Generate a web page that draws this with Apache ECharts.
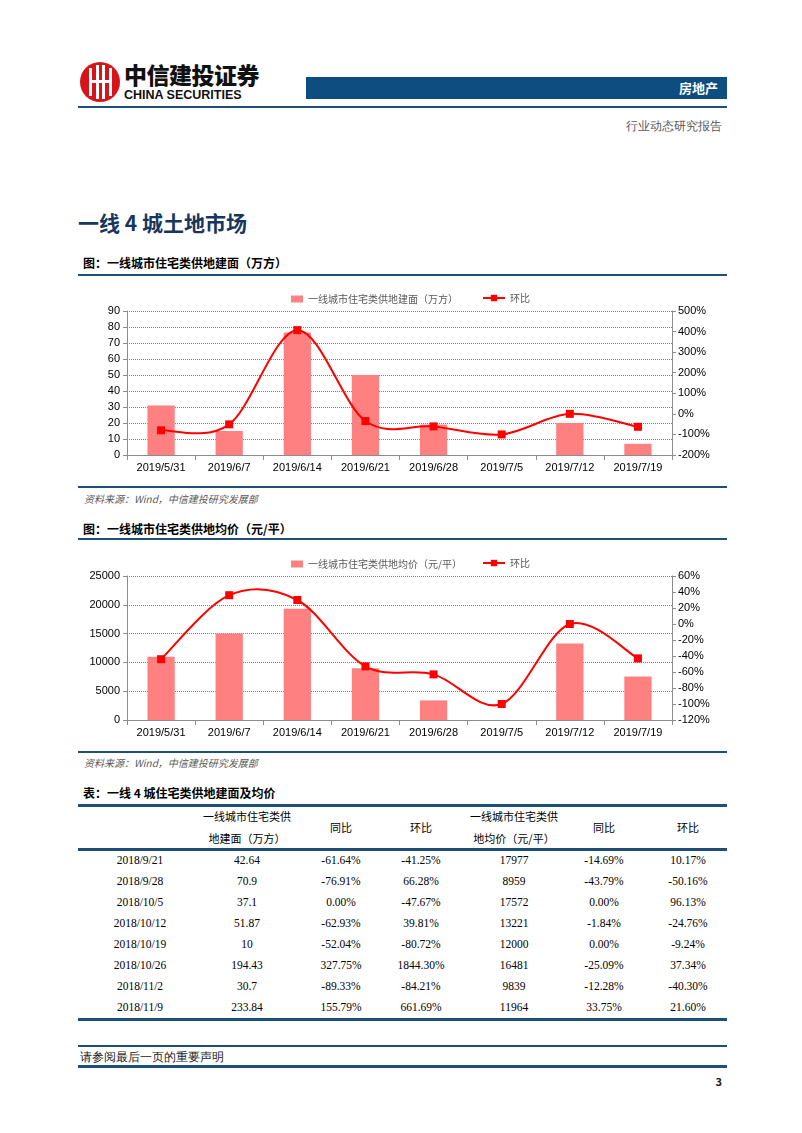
<!DOCTYPE html>
<html>
<head>
<meta charset="utf-8">
<script src="https://cdn.jsdelivr.net/npm/echarts@6/dist/echarts.min.js"></script>
<style>
  body { margin: 0; background: #fff; width: 802px; height: 1133px; position: relative; overflow: hidden;
         font-family: "Noto Sans CJK SC", "Liberation Sans", sans-serif; }
  .abs { position: absolute; }
  .hline { position: absolute; left: 78px; width: 649px; background: #1f4e79; }
  .cap { position: absolute; left: 83px; font-size: 12px; font-weight: bold; color: #000; line-height: 14px; }
  .src { position: absolute; left: 84px; font-size: 10px; font-style: italic; color: #595959;
         font-family: "Noto Sans CJK SC", serif; line-height: 12px; }
  .cell { position: absolute; transform: translateX(-50%); white-space: nowrap; font-size: 11px; line-height: 13px; }
  .num { font-family: "Liberation Serif", serif; color: #000; font-size: 11.5px; }
  .hd { font-family: "Noto Sans CJK SC", sans-serif; color: #000; }
</style>
</head>
<body>
<!-- 页眉 -->
<div class="abs" style="left:80px;top:62px;width:40px;height:40px;border-radius:50%;background:#d7141a;overflow:hidden;">
  <div class="abs" style="left:9px;top:6px;width:3px;height:28px;background:#fff;"></div>
  <div class="abs" style="left:16px;top:3px;width:3px;height:34px;background:#fff;"></div>
  <div class="abs" style="left:22px;top:3px;width:3px;height:34px;background:#fff;"></div>
  <div class="abs" style="left:29px;top:6px;width:3px;height:28px;background:#fff;"></div>
  <div class="abs" style="left:9px;top:18px;width:23px;height:3px;background:#fff;"></div>
</div>
<div class="abs" style="left:124px;top:60px;font-size:23px;font-weight:900;color:#111;line-height:28px;letter-spacing:-0.5px;">中信建投证券</div>
<div class="abs" style="left:124px;top:88px;font-size:12.5px;font-weight:bold;color:#111;line-height:14px;font-family:'Liberation Sans',sans-serif;">CHINA SECURITIES</div>
<div class="abs" style="left:306px;top:77px;width:421px;height:22px;background:#0e4d7f;"></div>
<div class="abs" style="left:600px;top:80px;width:118px;text-align:right;font-size:13px;font-weight:bold;color:#fff;line-height:16px;">房地产</div>
<div class="hline" style="top:106px;height:2px;"></div>
<div class="abs" style="left:560px;top:119px;width:162px;text-align:right;font-size:11.5px;color:#595959;line-height:15px;font-family:serif;">行业动态研究报告</div>

<div class="abs" style="left:78px;top:208px;font-size:21px;font-weight:bold;color:#17365d;line-height:28px;">一线 4 城土地市场</div>

<div class="cap" style="top:256px;">图：一线城市住宅类供地建面（万方）</div>
<div class="hline" style="top:274px;height:2px;"></div>
<div id="chart1" class="abs" style="left:60px;top:280px;width:680px;height:200px;"></div>
<div class="hline" style="top:486px;height:1.5px;"></div>
<div class="src" style="top:493px;">资料来源：Wind，中信建投研究发展部</div>

<div class="cap" style="top:522px;">图：一线城市住宅类供地均价（元/平）</div>
<div class="hline" style="top:538px;height:1.5px;"></div>
<div id="chart2" class="abs" style="left:60px;top:545px;width:680px;height:200px;"></div>
<div class="hline" style="top:751px;height:1.5px;"></div>
<div class="src" style="top:757px;">资料来源：Wind，中信建投研究发展部</div>

<div class="cap" style="top:786px;">表：一线 4 城住宅类供地建面及均价</div>
<div class="hline" style="top:804px;height:3px;"></div>
<div id="table"></div>
<div class="hline" style="top:848px;height:2.5px;"></div>
<div class="hline" style="top:1018px;height:2.5px;"></div>

<!-- 页脚 -->
<div class="hline" style="top:1045px;height:1.5px;"></div>
<div class="abs" style="left:80px;top:1050px;font-size:12px;color:#222;line-height:15px;font-family:serif;">请参阅最后一页的重要声明</div>
<div class="hline" style="top:1065px;height:3px;"></div>
<div class="abs" style="left:700px;top:1074px;width:22px;text-align:right;font-size:11px;font-weight:bold;color:#222;line-height:14px;">3</div>

<script>
// 图表数据
var weeks = ["2019/5/31", "2019/6/7", "2019/6/14", "2019/6/21", "2019/6/28", "2019/7/5", "2019/7/12", "2019/7/19"];
var areaValues = [31, 15, 76.5, 50, 19, 0, 20, 7];            // 建面（万方）
var areaChange = [-80, -51, 407, -35, -61, -100, 0, -63];     // 环比 %
var priceValues = [11000, 15000, 19300, 9000, 3400, 0, 13300, 7550]; // 均价（元/平）
var priceChange = [-44, 36, 30, -53, -63, -100, 0, -43];      // 环比 %

// 表格数据
var tableDates = ["2018/9/21", "2018/9/28", "2018/10/5", "2018/10/12", "2018/10/19", "2018/10/26", "2018/11/2", "2018/11/9"];
var tableArea = ["42.64", "70.9", "37.1", "51.87", "10", "194.43", "30.7", "233.84"];
var tableAreaYoy = ["-61.64%", "-76.91%", "0.00%", "-62.93%", "-52.04%", "327.75%", "-89.33%", "155.79%"];
var tableAreaMom = ["-41.25%", "66.28%", "-47.67%", "39.81%", "-80.72%", "1844.30%", "-84.21%", "661.69%"];
var tablePrice = ["17977", "8959", "17572", "13221", "12000", "16481", "9839", "11964"];
var tablePriceYoy = ["-14.69%", "-43.79%", "0.00%", "-1.84%", "0.00%", "-25.09%", "-12.28%", "33.75%"];
var tablePriceMom = ["10.17%", "-50.16%", "96.13%", "-24.76%", "-9.24%", "37.34%", "-40.30%", "21.60%"];

var axisFont = { fontFamily: "Liberation Sans", fontSize: 11, color: "#000" };
var axisGrey = "#8c8c8c";

// Excel 风格的平滑曲线：每段用相邻点算贝塞尔控制点
function curveSeries(changes) {
  return {
    type: "custom", yAxisIndex: 1, silent: true, z: 3,
    data: changes.map(function (v, i) { return [i, v]; }),
    renderItem: function (params, api) {
      var i = params.dataIndex;
      if (i >= changes.length - 1) return null;
      var p = function (k) {
        k = Math.max(0, Math.min(changes.length - 1, k));
        return api.coord([k, changes[k]]);
      };
      var p0 = p(i - 1), p1 = p(i), p2 = p(i + 1), p3 = p(i + 2);
      return {
        type: "bezierCurve",
        shape: {
          x1: p1[0], y1: p1[1], x2: p2[0], y2: p2[1],
          cpx1: p1[0] + (p2[0] - p0[0]) / 6, cpy1: p1[1] + (p2[1] - p0[1]) / 6,
          cpx2: p2[0] - (p3[0] - p1[0]) / 6, cpy2: p2[1] - (p3[1] - p1[1]) / 6
        },
        style: { stroke: "#ff0000", lineWidth: 2, fill: null }
      };
    }
  };
}

function makeOption(barName, bars, changes, leftMax, leftInterval, rMin, rMax, rInterval) {
  return {
    animation: false,
    grid: { left: 67, right: 68, top: 31, bottom: 25 },
    legend: [
      {
        left: 226, top: 9, itemWidth: 12, itemHeight: 7, icon: "rect",
        data: [barName],
        textStyle: { fontFamily: "Noto Sans CJK SC", fontSize: 10, color: "#595959" }
      },
      {
        left: 417, top: 8, itemWidth: 22, itemHeight: 8,
        data: [{ name: "环比", lineStyle: { color: "#ff0000", width: 2, opacity: 1 } }],
        textStyle: { fontFamily: "Noto Sans CJK SC", fontSize: 10, color: "#595959" }
      }
    ],
    xAxis: {
      type: "category",
      data: weeks,
      axisLine: { lineStyle: { color: axisGrey } },
      axisTick: { show: true, length: 5, lineStyle: { color: axisGrey } },
      axisLabel: Object.assign({ margin: 7, interval: 0 }, axisFont)
    },
    yAxis: [
      {
        type: "value", min: 0, max: leftMax, interval: leftInterval,
        axisLine: { show: true, lineStyle: { color: axisGrey } },
        axisTick: { show: true, length: 4, lineStyle: { color: axisGrey } },
        axisLabel: Object.assign({ margin: 7, formatter: function (v) { return String(v); } }, axisFont),
        splitLine: { show: true, lineStyle: { color: "#7f7f7f", type: [1, 1], width: 1 } }
      },
      {
        type: "value", min: rMin, max: rMax, interval: rInterval, position: "right",
        axisLine: { show: true, lineStyle: { color: axisGrey } },
        axisTick: { show: true, length: 4, lineStyle: { color: axisGrey } },
        axisLabel: Object.assign({ margin: 6, formatter: "{value}%" }, axisFont),
        splitLine: { show: false }
      }
    ],
    series: [
      {
        name: barName, type: "bar", data: bars, barWidth: "40%",
        itemStyle: { color: "#ff8080" }
      },
      curveSeries(changes),
      {
        name: "环比", type: "line", yAxisIndex: 1, data: changes, z: 4,
        symbol: "rect", symbolSize: 8,
        itemStyle: { color: "#ff0000" },
        lineStyle: { color: "#ff0000", width: 0, opacity: 0 }
      }
    ]
  };
}

var chart1 = echarts.init(document.getElementById("chart1"));
chart1.setOption(makeOption("一线城市住宅类供地建面（万方）", areaValues, areaChange, 90, 10, -200, 500, 100));

var chart2 = echarts.init(document.getElementById("chart2"));
chart2.setOption(makeOption("一线城市住宅类供地均价（元/平）", priceValues, priceChange, 25000, 5000, -120, 60, 20));

// 表格
var colX = [140, 247, 341, 421, 514, 604, 688];
var html = "";
var hdr = [["一线城市住宅类供", "地建面（万方）"], ["同比"], ["环比"], ["一线城市住宅类供", "地均价（元/平）"], ["同比"], ["环比"]];
for (var c = 0; c < hdr.length; c++) {
  if (hdr[c].length === 2) {
    html += '<div class="cell hd" style="left:' + colX[c + 1] + 'px;top:810px;">' + hdr[c][0] + '</div>';
    html += '<div class="cell hd" style="left:' + colX[c + 1] + 'px;top:832px;">' + hdr[c][1] + '</div>';
  } else {
    html += '<div class="cell hd" style="left:' + colX[c + 1] + 'px;top:821px;">' + hdr[c][0] + '</div>';
  }
}
for (var i = 0; i < tableDates.length; i++) {
  var row = [tableDates[i], tableArea[i], tableAreaYoy[i], tableAreaMom[i], tablePrice[i], tablePriceYoy[i], tablePriceMom[i]];
  var rowTop = 854 + i * 21;
  for (var k = 0; k < row.length; k++) {
    html += '<div class="cell num" style="left:' + colX[k] + 'px;top:' + rowTop + 'px;">' + row[k] + '</div>';
  }
}
document.getElementById("table").innerHTML = html;
</script>
</body>
</html>
